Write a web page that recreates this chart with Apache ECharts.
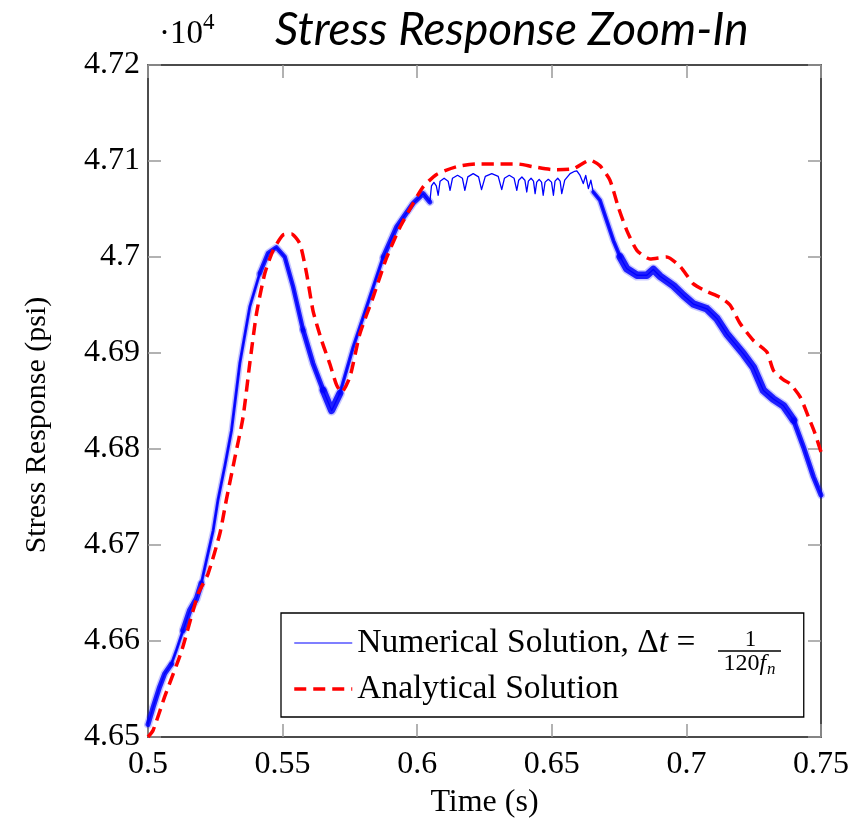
<!DOCTYPE html>
<html>
<head>
<meta charset="utf-8">
<script src="https://cdn.jsdelivr.net/npm/echarts@6/dist/echarts.min.js"></script>
<style>html,body{margin:0;padding:0;background:#fff;}#chart{width:862px;height:825px;}</style>
</head>
<body>
<div id="chart"></div>
<script>
// ---- data (stress in units of 10^4 psi) ----
const numTime = [
  0.5000, 0.5019, 0.5043, 0.5062, 0.5087, 0.5105, 0.5130, 0.5155, 0.5180, 0.5198,
  0.5217, 0.5242, 0.5260, 0.5286, 0.5310, 0.5341, 0.5378, 0.5415, 0.5446, 0.5477,
  0.5508, 0.5539, 0.5576, 0.5613, 0.5651, 0.5682, 0.5713, 0.5762, 0.5824, 0.5874,
  0.5923, 0.5985, 0.6022,
  0.6047, 0.6053, 0.6062, 0.6071, 0.6078, 0.6085, 0.6100, 0.6115, 0.6122, 0.6131,
  0.6150, 0.6168, 0.6177, 0.6188, 0.6208, 0.6228, 0.6239, 0.6253, 0.6277, 0.6301,
  0.6314, 0.6324, 0.6342, 0.6360, 0.6370, 0.6377, 0.6389, 0.6400, 0.6407, 0.6413,
  0.6423, 0.6432, 0.6438, 0.6444, 0.6453, 0.6462, 0.6468, 0.6475, 0.6487, 0.6499,
  0.6506, 0.6512, 0.6522, 0.6531, 0.6537, 0.6548, 0.6568, 0.6585, 0.6593, 0.6605,
  0.6617, 0.6626, 0.6636, 0.6645, 0.6654,
  0.6679, 0.6704, 0.6729, 0.6754, 0.6778, 0.6816, 0.6853, 0.6877, 0.6902, 0.6952,
  0.6989, 0.7026, 0.7076, 0.7113, 0.7150, 0.7212, 0.7249, 0.7286, 0.7323, 0.7361,
  0.7398, 0.7435, 0.7472, 0.7500
];
const numStress = [
  4.6513, 4.6531, 4.6552, 4.6566, 4.6576, 4.6590, 4.6611, 4.6632, 4.6644, 4.6660,
  4.6684, 4.6715, 4.6747, 4.6783, 4.6819, 4.6889, 4.6948, 4.6983, 4.7004, 4.7010,
  4.7000, 4.6969, 4.6924, 4.6889, 4.6861, 4.6840, 4.6858, 4.6906, 4.6958, 4.7000,
  4.7031, 4.7056, 4.7066,
  4.70573, 4.70740, 4.70778, 4.70740, 4.70643, 4.70790, 4.70820, 4.70790, 4.70695, 4.70820,
  4.70851, 4.70820, 4.70695, 4.70835, 4.70869, 4.70835, 4.70702, 4.70840, 4.70869, 4.70840,
  4.70702, 4.70820, 4.70851, 4.70820, 4.70695, 4.70800, 4.70833, 4.70800, 4.70677, 4.70790,
  4.70820, 4.70790, 4.70660, 4.70780, 4.70809, 4.70780, 4.70643, 4.70780, 4.70809, 4.70780,
  4.70643, 4.70790, 4.70820, 4.70790, 4.70660, 4.70800, 4.70869, 4.70893, 4.70898, 4.70850,
  4.70765, 4.70850, 4.70713, 4.70800, 4.70677,
  4.7059, 4.7038, 4.7017, 4.7000, 4.6988, 4.6981, 4.6981, 4.6987, 4.6980, 4.6970,
  4.6960, 4.6951, 4.6946, 4.6936, 4.6920, 4.6899, 4.6885, 4.6861, 4.6852, 4.6845,
  4.6830, 4.6802, 4.6771, 4.6752
];
const anaTime = [
  0.5000, 0.5019, 0.5062, 0.5124, 0.5186, 0.5223, 0.5267, 0.5291, 0.5322, 0.5353,
  0.5378, 0.5403, 0.5434, 0.5465, 0.5502, 0.5533, 0.5564, 0.5589, 0.5613, 0.5645,
  0.5675, 0.5700, 0.5719, 0.5750, 0.5787, 0.5836, 0.5886, 0.5936, 0.5985, 0.6022,
  0.6072, 0.6146, 0.6221, 0.6295, 0.6370, 0.6431, 0.6506, 0.6580, 0.6642, 0.6679,
  0.6716, 0.6747, 0.6778, 0.6816, 0.6865, 0.6927, 0.6977, 0.7026, 0.7076, 0.7125,
  0.7162, 0.7199, 0.7249, 0.7299, 0.7323, 0.7361, 0.7385, 0.7423, 0.7454, 0.7478,
  0.7500
];
const anaStress = [
  4.6500, 4.6507, 4.6542, 4.6589, 4.6649, 4.6670, 4.6712, 4.6747, 4.6790, 4.6833,
  4.6889, 4.6941, 4.6983, 4.7007, 4.7023, 4.7024, 4.7014, 4.6983, 4.6944, 4.6913,
  4.6889, 4.6867, 4.6859, 4.6875, 4.6920, 4.6958, 4.6999, 4.7031, 4.7056, 4.7073,
  4.7086, 4.7094, 4.7097, 4.7097, 4.7097, 4.7094, 4.7091, 4.7092, 4.7101, 4.7095,
  4.7080, 4.7052, 4.7028, 4.7007, 4.6998, 4.7000, 4.6990, 4.6972, 4.6964, 4.6958,
  4.6950, 4.6931, 4.6913, 4.6901, 4.6882, 4.6872, 4.6868, 4.6854, 4.6833, 4.6816,
  4.6797
];
const xTickLabels = ['0.5', '0.55', '0.6', '0.65', '0.7', '0.75'];
const yTickLabels = ['4.65', '4.66', '4.67', '4.68', '4.69', '4.7', '4.71', '4.72'];

// ---- styling (not data) ----
const NUM_NAME = 'Numerical Solution';
const ANA_NAME = 'Analytical Solution';
const SERIF = '"Liberation Serif", "Times New Roman", serif';
// thickness of the fast-oscillation band of the numerical curve, by time range
const bandStyle = [
  [0.5000, 0.5087, 5], [0.5087, 0.5130, 3], [0.5130, 0.5198, 5.5], [0.5198, 0.5415, 3],
  [0.5415, 0.5576, 4.5], [0.5576, 0.5651, 5], [0.5651, 0.5713, 7], [0.5713, 0.5874, 3.5],
  [0.5874, 0.6047, 5], [0.6654, 0.6754, 4], [0.6754, 0.7398, 7.5], [0.7398, 0.7500, 5]
];

const numData = numTime.map((t, i) => [t, numStress[i]]);
const anaData = anaTime.map((t, i) => [t, anaStress[i]]);

const fmt = v => String(parseFloat(v.toFixed(2)));

const bandSeries = [];
bandStyle.forEach(([a, b, w]) => {
  const seg = numData.filter(p => p[0] >= a - 1e-9 && p[0] <= b + 1e-9);
  bandSeries.push({
    type: 'line', data: seg, symbol: 'none', silent: true, z: 1,
    lineStyle: { color: '#0000ff', width: w + 3, opacity: 0.22, cap: 'round', join: 'round' }
  });
  bandSeries.push({
    type: 'line', data: seg, symbol: 'none', silent: true, z: 2,
    lineStyle: { color: '#0000ff', width: w, opacity: 0.85, cap: 'round', join: 'round' }
  });
});

// legend layout measurement
const LEG_FS = 33.5;
const mctx = document.createElement('canvas').getContext('2d');
mctx.font = LEG_FS + 'px ' + SERIF;
let tw = mctx.measureText('Numerical Solution, ').width + mctx.measureText('Δ').width + mctx.measureText(' = ').width;
mctx.font = 'italic ' + LEG_FS + 'px ' + SERIF;
tw += mctx.measureText('t').width;
const LEG_LEFT = 281, LEG_RIGHT = 802, PAD_L = 11.5, PAD_R = 14, ICON_W = 58;
const spacerW = Math.max(20, LEG_RIGHT - LEG_LEFT - PAD_L - PAD_R - ICON_W - 5 - tw);

const axisCommon = {
  type: 'value',
  axisLine: { show: true, onZero: false, lineStyle: { color: '#111', width: 1.5 } },
  axisTick: { show: true, inside: true, length: 13, lineStyle: { color: '#999', width: 1.5 } },
  splitLine: { show: false }
};
const labelStyle = { fontFamily: SERIF, fontSize: 32, color: '#000' };

const option = {
  animation: false,
  backgroundColor: '#fff',
  title: [
    { text: 'Stress Response Zoom-In', left: 270, top: 2,
      textStyle: { fontFamily: 'Lato', fontStyle: 'italic', fontWeight: 'normal', fontSize: 46, color: '#000' } }
  ],
  grid: { left: 148, right: 41, top: 65, bottom: 88 },
  xAxis: [
    Object.assign({}, axisCommon, {
      min: 0.5, max: 0.75, interval: 0.05, position: 'bottom',
      axisLabel: Object.assign({ margin: 12, formatter: fmt }, labelStyle),
      name: 'Time (s)', nameLocation: 'middle', nameGap: 50,
      nameTextStyle: { fontFamily: SERIF, fontSize: 32, color: '#000' }
    }),
    Object.assign({}, axisCommon, {
      min: 0.5, max: 0.75, interval: 0.05, position: 'top',
      axisLabel: { show: false }
    })
  ],
  yAxis: [
    Object.assign({}, axisCommon, {
      min: 4.65, max: 4.72, interval: 0.01, position: 'left',
      axisLabel: Object.assign({ margin: 8, formatter: fmt }, labelStyle),
      name: 'Stress Response (psi)', nameLocation: 'middle', nameGap: 96, nameRotate: 90,
      nameTextStyle: { fontFamily: SERIF, fontSize: 30, color: '#000', padding: [0, 48, 0, 0] }
    }),
    Object.assign({}, axisCommon, {
      min: 4.65, max: 4.72, interval: 0.01, position: 'right',
      axisLabel: { show: false }
    })
  ],
  legend: {
    orient: 'vertical', left: LEG_LEFT, top: 613,
    padding: [12, PAD_R, 10, PAD_L],
    itemWidth: ICON_W, itemHeight: 14, itemGap: 10,
    itemStyle: { opacity: 0, borderWidth: 0 },
    backgroundColor: '#fff', borderColor: '#000', borderWidth: 1.3, borderRadius: 0,
    data: [
      { name: NUM_NAME, lineStyle: { width: 1.2 } },
      { name: ANA_NAME, lineStyle: { width: 3.5 } }
    ],
    formatter: name => name === NUM_NAME
      ? '{r|Numerical Solution, Δ}{i|t}{r| = }{sp| }'
      : '{r|Analytical Solution}',
    textStyle: {
      color: '#000', fontFamily: SERIF, fontSize: LEG_FS, lineHeight: 36,
      rich: {
        r: { fontFamily: SERIF, fontSize: LEG_FS, lineHeight: 36, color: '#000' },
        i: { fontFamily: SERIF, fontSize: LEG_FS, lineHeight: 36, fontStyle: 'italic', color: '#000' },
        sp: { width: spacerW, lineHeight: 36 }
      }
    }
  },
  graphic: [
    // axis multiplier ·10^4
    { type: 'text', x: 159, y: 34, z: 100,
      style: { text: '·10', font: '33px ' + SERIF, fill: '#000', align: 'left', verticalAlign: 'middle' } },
    { type: 'text', x: 203, y: 22.5, z: 100,
      style: { text: '4', font: '23px ' + SERIF, fill: '#000', align: 'left', verticalAlign: 'middle' } },
    // fraction 1 / (120 f_n) in the legend
    { type: 'text', x: 750.5, y: 640, z: 100,
      style: { text: '1', font: '23px ' + SERIF, fill: '#000', align: 'center', verticalAlign: 'middle' } },
    { type: 'line', z: 100, shape: { x1: 718, y1: 651, x2: 781, y2: 651 },
      style: { stroke: '#000', lineWidth: 1.3 } },
    { type: 'text', x: 749.5, y: 664, z: 100,
      style: { text: '{a|120}{b|f}{c|n}', align: 'center', verticalAlign: 'middle',
        rich: {
          a: { fontFamily: SERIF, fontSize: 24, fill: '#000', color: '#000' },
          b: { fontFamily: SERIF, fontSize: 24, fontStyle: 'italic', fill: '#000', color: '#000' },
          c: { fontFamily: SERIF, fontSize: 17, fontStyle: 'italic', fill: '#000', color: '#000', padding: [12, 0, 0, 1] }
        } } }
  ],
  series: [
    {
      name: NUM_NAME, type: 'line', data: numData, symbol: 'none', z: 3,
      lineStyle: { color: '#0000ff', width: 1.3, join: 'round' }
    },
    ...bandSeries,
    {
      name: ANA_NAME, type: 'line', data: anaData, symbol: 'none', smooth: 0.2, z: 4,
      lineStyle: { color: '#ff0000', width: 3.5, type: [12, 7] }
    }
  ]
};

const chart = echarts.init(document.getElementById('chart'), null, { renderer: 'canvas' });
chart.setOption(option);
</script>
</body>
</html>
